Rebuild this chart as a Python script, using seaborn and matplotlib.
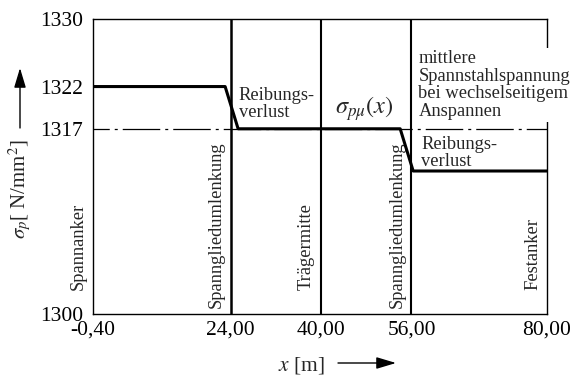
import numpy as np
import matplotlib
matplotlib.use("Agg")
import matplotlib.pyplot as plt
import seaborn as sns
import pandas as pd

# ---- data ----
x_profile = [-0.4, 23.0, 25.3, 54.0, 56.3, 80.0]
sigma_profile = [1322, 1322, 1317, 1317, 1312, 1312]
sigma_mean = 1317
section_x = [24.0, 40.0, 56.0]
x_ticks = [-0.4, 24.0, 40.0, 56.0, 80.0]
x_ticklabels = ["-0,40", "24,00", "40,00", "56,00", "80,00"]
y_ticks = [1300, 1317, 1322, 1330]
y_ticklabels = ["1300", "1317", "1322", "1330"]
section_labels = ["Spannanker", "Spanngliedumlenkung", "Trägermitte",
                  "Spanngliedumlenkung", "Festanker"]
section_label_x = [-0.4, 24.0, 40.0, 56.0, 80.0]

sns.set_theme(style="white")
plt.rcParams["font.family"] = ["Liberation Serif", "DejaVu Serif"]
plt.rcParams["mathtext.fontset"] = "stix"

# schematic (piecewise linear) y scale
knots_v = np.array([1300.0, 1312.0, 1330.0])
knots_p = np.array([0.0, 143.0, 295.0])

def fwd(v):
    v = np.asarray(v, dtype=float)
    lo = knots_p[0] + (v - knots_v[0]) * (knots_p[1] - knots_p[0]) / (knots_v[1] - knots_v[0])
    hi = knots_p[1] + (v - knots_v[1]) * (knots_p[2] - knots_p[1]) / (knots_v[2] - knots_v[1])
    return np.where(v < knots_v[1], lo, hi)

def inv(p):
    p = np.asarray(p, dtype=float)
    lo = knots_v[0] + (p - knots_p[0]) * (knots_v[1] - knots_v[0]) / (knots_p[1] - knots_p[0])
    hi = knots_v[1] + (p - knots_p[1]) * (knots_v[2] - knots_v[1]) / (knots_p[2] - knots_p[1])
    return np.where(p < knots_p[1], lo, hi)

fig = plt.figure(figsize=(5.72, 3.75), dpi=100)
ax = fig.add_axes([93/572, 1-314/375, 454/572, 295/375])
ax.set_yscale("function", functions=(fwd, inv))

df = pd.DataFrame({"x": x_profile, "sigma": sigma_profile})
sns.lineplot(data=df, x="x", y="sigma", sort=False, color="black", lw=2.2, ax=ax, zorder=4)
ax.axhline(sigma_mean, color="black", lw=0.9, ls=(17, (30, 4, 2.4, 4)), zorder=3)
for xs, lw in zip(section_x, [1.8, 1.5, 1.5]):
    ax.axvline(xs, color="black", lw=lw, zorder=3)

ax.set_xlim(-0.4, 80.0)
ax.set_ylim(1300, 1330)
ax.set_xticks(x_ticks)
ax.set_xticklabels(x_ticklabels)
ax.set_yticks(y_ticks)
ax.set_yticklabels(y_ticklabels)
ax.yaxis.set_minor_locator(matplotlib.ticker.NullLocator())
ax.tick_params(axis="both", length=0, labelsize=15.5, colors="black")
ax.tick_params(axis="y", pad=7)
ax.tick_params(axis="x", pad=5)
ax.set_xlabel("")
ax.set_ylabel("")
for s in ax.spines.values():
    s.set_color("black")
    s.set_linewidth(1.0)
    s.set_visible(True)

# section labels (rotated)
bottoms = [0.08, 0.02, 0.08, 0.02, 0.08]
for lab, xs, b in zip(section_labels, section_label_x, bottoms):
    ax.annotate(lab, xy=(xs, b), xycoords=ax.get_xaxis_transform(),
                xytext=(-6, 0), textcoords="offset pixels",
                rotation=90, ha="right", va="bottom", fontsize=13.3,
                annotation_clip=False)

# annotations
ax.annotate("Reibungs-\nverlust", xy=(24.0, 1330), xytext=(8, -68),
            textcoords="offset pixels", ha="left", va="top",
            fontsize=13.3, linespacing=1.02)
ax.annotate("Reibungs-\nverlust", xy=(56.0, 1330), xytext=(10, -117),
            textcoords="offset pixels", ha="left", va="top",
            fontsize=13.3, linespacing=1.02)
ax.annotate(r"$\sigma_{p\mu}(x)$", xy=(40.0, 1317), xytext=(14, 6),
            textcoords="offset pixels", ha="left", va="bottom",
            fontsize=17.5)
ax.annotate("mittlere\nSpannstahlspannung\nbei wechselseitigem\nAnspannen",
            xy=(56.0, 1330), xytext=(7, -31), textcoords="offset pixels",
            ha="left", va="top", fontsize=13.3, linespacing=1.04,
            annotation_clip=False, zorder=6,
            bbox=dict(fc="white", ec="none", pad=1.5))

# axis labels with arrows
fig.text(20/572, 1-189/375, r"$\sigma_p$[ N/mm$^2$]", rotation=90,
         ha="center", va="center", fontsize=15)
fig.add_artist(matplotlib.patches.FancyArrowPatch(
    (20/572, 1-128/375), (20/572, 1-68/375), transform=fig.transFigure,
    arrowstyle="-|>,head_length=0.6,head_width=0.18", mutation_scale=20,
    color="black", lw=1.0, shrinkA=0, shrinkB=0))
fig.text(325/572, 1-370/375, r"$x$ [m]", ha="right", va="baseline", fontsize=15.5)
fig.add_artist(matplotlib.patches.FancyArrowPatch(
    (338/572, 1-363/375), (396/572, 1-363/375), transform=fig.transFigure,
    arrowstyle="-|>,head_length=0.6,head_width=0.18", mutation_scale=20,
    color="black", lw=1.0, shrinkA=0, shrinkB=0))

fig.savefig("out.png", dpi=100, facecolor="white")
